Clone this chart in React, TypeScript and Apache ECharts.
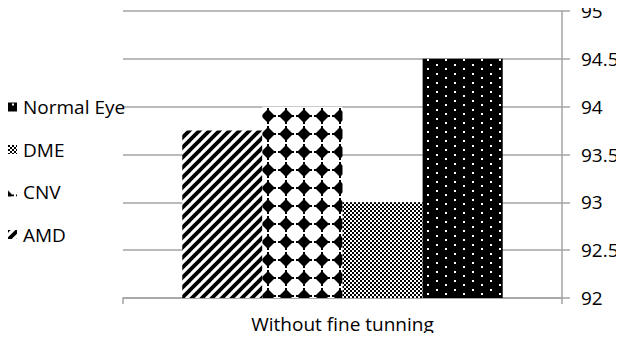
import React, { useEffect, useRef } from "react";
import * as echarts from "echarts";

const categories = ["Without fine tunning"];
const seriesNames = ["AMD", "CNV", "DME", "Normal Eye"];
const amdValues = [93.75];
const cnvValues = [94.0];
const dmeValues = [93.0];
const normalValues = [94.5];
const legendOrder = ["Normal Eye", "DME", "CNV", "AMD"];

function makeCanvas(w: number, h: number, draw: (ctx: CanvasRenderingContext2D) => void) {
  const c = document.createElement("canvas");
  c.width = w;
  c.height = h;
  const ctx = c.getContext("2d")!;
  draw(ctx);
  return c;
}

function stripePattern() {
  const T = 10;
  const c = makeCanvas(T, T, (ctx) => {
    ctx.fillStyle = "#fff";
    ctx.fillRect(0, 0, T, T);
    ctx.strokeStyle = "#000";
    ctx.lineWidth = 3.8;
    for (const k of [-T, 0, T]) {
      ctx.beginPath();
      ctx.moveTo(k - 2, T + 2);
      ctx.lineTo(k + T + 2, -2);
      ctx.stroke();
    }
  });
  return { image: c, repeat: "repeat", imageWidth: T, imageHeight: T };
}

function diamondPattern() {
  const T = 18;
  const c = makeCanvas(T, T, (ctx) => {
    ctx.fillStyle = "#fff";
    ctx.fillRect(0, 0, T, T);
    ctx.fillStyle = "#000";
    const cx = 16;
    const cy = 8;
    const r = 7;
    for (const dx of [-T, 0, T]) {
      for (const dy of [-T, 0, T]) {
        const x = cx + dx;
        const y = cy + dy;
        ctx.beginPath();
        ctx.moveTo(x, y - r);
        ctx.lineTo(x + r, y);
        ctx.lineTo(x, y + r);
        ctx.lineTo(x - r, y);
        ctx.closePath();
        ctx.fill();
        ctx.fillRect(x - 1, y - r - 1, 2, 2);
        ctx.fillRect(x - 1, y + r - 1, 2, 2);
        ctx.fillRect(x - r - 1, y - 1, 2, 2);
        ctx.fillRect(x + r - 1, y - 1, 2, 2);
      }
    }
  });
  return { image: c, repeat: "repeat", imageWidth: T, imageHeight: T };
}

function checkerPattern() {
  const T = 4;
  const c = makeCanvas(T, T, (ctx) => {
    ctx.fillStyle = "#fff";
    ctx.fillRect(0, 0, T, T);
    ctx.fillStyle = "#000";
    ctx.fillRect(0, 0, 2, 2);
    ctx.fillRect(2, 2, 2, 2);
  });
  return { image: c, repeat: "repeat", imageWidth: T, imageHeight: T };
}

function dotPattern() {
  const W = 18;
  const H = 9;
  const c = makeCanvas(W, H, (ctx) => {
    ctx.fillStyle = "#000";
    ctx.fillRect(0, 0, W, H);
    ctx.fillStyle = "#fff";
    ctx.fillRect(4, 1, 2, 2);
    ctx.fillRect(13, 5, 2, 2);
  });
  return { image: c, repeat: "repeat", imageWidth: W, imageHeight: H };
}

export default function App() {
  const ref = useRef<HTMLDivElement>(null);

  useEffect(() => {
    if (!ref.current) return;
    const chart = echarts.init(ref.current, null, { renderer: "svg" });
    const font = "'Open Sans', 'Noto Sans', sans-serif";
    const gridColor = "#a3a3a3";
    const patterns: any = {
      AMD: stripePattern(),
      CNV: diamondPattern(),
      DME: checkerPattern(),
      "Normal Eye": dotPattern(),
    };
    const valuesByName: Record<string, number[]> = {
      AMD: amdValues,
      CNV: cnvValues,
      DME: dmeValues,
      "Normal Eye": normalValues,
    };
    chart.setOption({
      animation: false,
      backgroundColor: "#fff",
      textStyle: { fontFamily: font },
      grid: { left: 123, right: 62, top: 11, bottom: 43, containLabel: false },
      legend: {
        orient: "vertical",
        left: 3,
        top: 92,
        data: legendOrder,
        itemWidth: 9,
        itemHeight: 9,
        itemGap: 22.5,
        icon: "rect",
        textStyle: { fontFamily: font, fontSize: 19, color: "#000", lineHeight: 20, padding: [0, 0, 0, 1] },
      },
      xAxis: {
        type: "category",
        data: categories,
        axisLine: { show: true, lineStyle: { color: gridColor, width: 1.5 } },
        axisTick: { show: true, length: 6, lineStyle: { color: gridColor, width: 1.5 } },
        axisLabel: { fontFamily: font, fontSize: 19, color: "#000", margin: 16, lineHeight: 19 },
      },
      yAxis: {
        type: "value",
        position: "right",
        min: 92,
        max: 95,
        interval: 0.5,
        axisLine: { show: true, lineStyle: { color: gridColor, width: 1.5 } },
        axisTick: { show: true, length: 8, lineStyle: { color: gridColor, width: 1.5 } },
        splitLine: { show: true, lineStyle: { color: gridColor, width: 1.5 } },
        axisLabel: { fontFamily: font, fontSize: 19, color: "#000", margin: 19, lineHeight: 19 },
      },
      series: seriesNames.map((name) => ({
        name,
        type: "bar",
        data: valuesByName[name],
        barGap: "0%",
        barCategoryGap: "27%",
        itemStyle: { color: patterns[name] },
        emphasis: { disabled: true },
      })),
    });
    return () => chart.dispose();
  }, []);

  return <div ref={ref} style={{ width: 624, height: 341, margin: -8 }} />;
}
